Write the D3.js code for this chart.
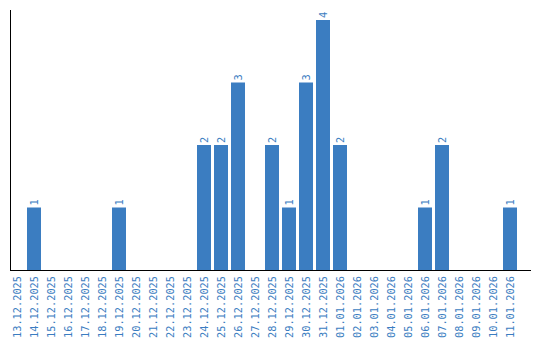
<!DOCTYPE html>
<html><head><meta charset="utf-8">
<script src="https://cdn.jsdelivr.net/npm/d3@7"></script>
<style>html,body{margin:0;padding:0;background:#fff;}</style>
</head><body>
<svg id="chart" width="540" height="340"></svg>
<script>
const dates = ["13.12.2025","14.12.2025","15.12.2025","16.12.2025","17.12.2025","18.12.2025","19.12.2025","20.12.2025","21.12.2025","22.12.2025","23.12.2025","24.12.2025","25.12.2025","26.12.2025","27.12.2025","28.12.2025","29.12.2025","30.12.2025","31.12.2025","01.01.2026","02.01.2026","03.01.2026","04.01.2026","05.01.2026","06.01.2026","07.01.2026","08.01.2026","09.01.2026","10.01.2026","11.01.2026"];
const counts = [0,1,0,0,0,0,1,0,0,0,0,2,2,3,0,2,1,3,4,2,0,0,0,0,1,2,0,0,0,1];
const yMax = 4;

const color = "#3b7dc1";
const font = "'DejaVu Sans Mono', monospace";
const svg = d3.select("#chart");
const axisX = 10, mTop = 20, base = 270;

const x = d3.scaleBand().domain(dates).range([8.5, 518.5]).paddingInner(3/17).paddingOuter(1.5/17);
const y = d3.scaleLinear().domain([0, yMax]).range([base, mTop]);

const data = dates.map((d, i) => ({date: d, value: counts[i]}));

svg.selectAll("rect.bar").data(data.filter(d => d.value > 0)).enter().append("rect")
  .attr("class", "bar")
  .attr("x", d => x(d.date))
  .attr("width", x.bandwidth())
  .attr("y", d => y(d.value))
  .attr("height", d => base - y(d.value))
  .attr("fill", color);

svg.selectAll("text.val").data(data.filter(d => d.value > 0)).enter().append("text")
  .attr("class", "val")
  .attr("transform", d => `translate(${x(d.date) + x.bandwidth()/2 + 3.5},${y(d.value) - 2}) rotate(-90)`)
  .attr("text-anchor", "start")
  .attr("font-family", font)
  .attr("font-size", 10.3)
  .attr("fill", color)
  .text(d => d.value);

// x axis
const xAxis = svg.append("g").attr("transform", `translate(0,${base})`)
  .call(d3.axisBottom(x).tickSize(0).tickPadding(0));
xAxis.select(".domain").remove();
xAxis.selectAll("text")
  .attr("font-family", font)
  .attr("font-size", 10.3)
  .attr("fill", color)
  .attr("text-anchor", "end")
  .attr("dy", null)
  .attr("y", 0)
  .attr("transform", "translate(3.5,6) rotate(-90)");

svg.append("line").attr("x1", axisX + 0.5).attr("x2", axisX + 0.5).attr("y1", 10).attr("y2", base + 1)
  .attr("stroke", "#000").attr("stroke-width", 1);
svg.append("line").attr("x1", axisX).attr("x2", 531).attr("y1", base + 0.5).attr("y2", base + 0.5)
  .attr("stroke", "#000").attr("stroke-width", 1);
</script>
</body></html>
